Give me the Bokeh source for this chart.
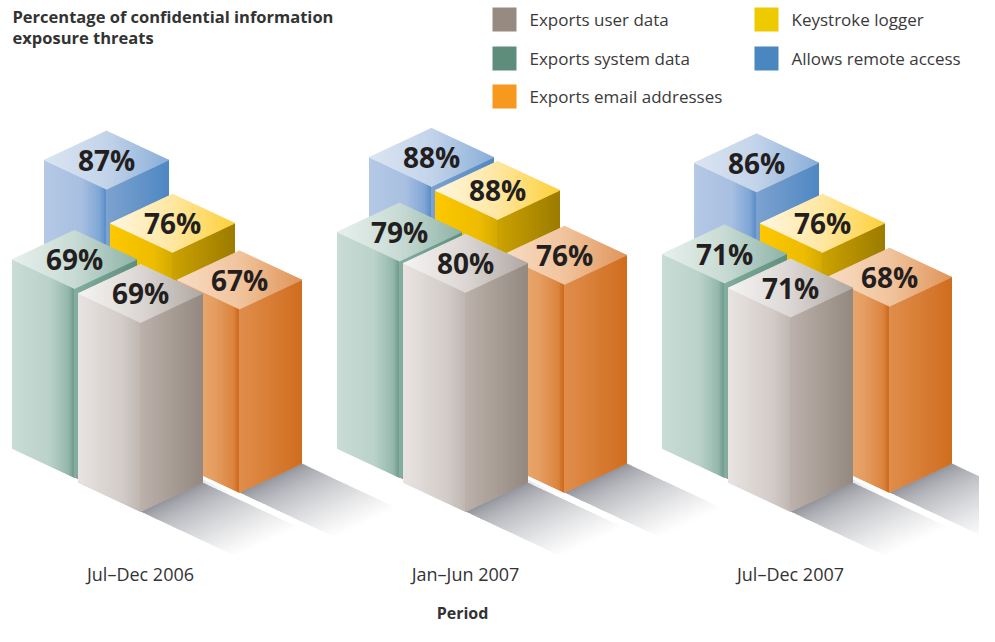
from bokeh.plotting import figure
from bokeh.models import Range1d, ColumnDataSource
from bokeh.core.properties import value
from bokeh.embed import file_html
from bokeh.resources import INLINE

# ---------------- data ----------------
title_lines = ["Percentage of confidential information", "exposure threats"]
periods = ["Jul\u2013Dec 2006", "Jan\u2013Jun 2007", "Jul\u2013Dec 2007"]
x_axis_title = "Period"
series_names = ["Exports user data", "Exports system data", "Exports email addresses",
                "Keystroke logger", "Allows remote access"]
user_data = [69, 80, 71]
system_data = [69, 79, 71]
email_addresses = [67, 76, 68]
keystroke_logger = [76, 88, 76]
remote_access = [87, 88, 86]
series_values = [user_data, system_data, email_addresses, keystroke_logger, remote_access]

# ---------------- layout / style ----------------
FONT = "Open Sans"
W, H = 979, 626
PX_PER_PCT = 2.74
HW, HD = 62, 29           # half width / half depth of a box top face
GROUP_X0, GROUP_DX, BASE_Y = 106, 325, 398
# slot offsets (dx, dy) of each series' base centre within a group
slots = {
    "Allows remote access": (0, 0),
    "Keystroke logger": (66, 33),
    "Exports email addresses": (133, 65),
    "Exports system data": (-32, 50),
    "Exports user data": (34, 84),
}
styles = {
    "Exports user data": dict(
        swatch="#978a80",
        top=[(0, "#f5f4f3"), (0.5, "#dcd7d4"), (1, "#b0a8a2")],
        left=[(0, "#e8e4e2"), (0.7, "#d3ccc8"), (1, "#c0b7b1")],
        right=[(0, "#bcb2ab"), (1, "#938980")]),
    "Exports system data": dict(
        swatch="#5f8d7c",
        top=[(0, "#e8f0ec"), (0.5, "#c8dbd4"), (1, "#8fb4a7")],
        left=[(0, "#c9dcd6"), (0.6, "#bad2ca"), (0.9, "#96b9ad"), (1, "#6f9a8c")],
        right=[(0, "#84ad9f"), (1, "#5f8f7f")]),
    "Exports email addresses": dict(
        swatch="#f7981f",
        top=[(0, "#f8dcc4"), (0.5, "#f1c49d"), (1, "#e0955a")],
        left=[(0, "#f0b47e"), (0.6, "#e59d61"), (0.9, "#dc8540"), (1, "#cc6a1c")],
        right=[(0, "#e08e4c"), (1, "#d06d1e")]),
    "Keystroke logger": dict(
        swatch="#eecb00",
        top=[(0, "#fff6df"), (0.5, "#ffe7a2"), (1, "#fdd03a")],
        left=[(0, "#fdc800"), (0.7, "#eebc00"), (1, "#d4aa00")],
        right=[(0, "#cca300"), (1, "#9c7b00")]),
    "Allows remote access": dict(
        swatch="#4a86c0",
        top=[(0, "#dbe5f2"), (0.5, "#c3d4ea"), (1, "#8aaed7")],
        left=[(0, "#b5c9e5"), (0.6, "#a8bfe1"), (0.9, "#7ea6d6"), (1, "#5a8cc6")],
        right=[(0, "#7da2cf"), (1, "#4f88c3")]),
}
legend_layout = {  # (swatch centre x, row centre y)
    "Exports user data": (504, 19),
    "Exports system data": (504, 58),
    "Exports email addresses": (504, 96),
    "Keystroke logger": (766, 19),
    "Allows remote access": (766, 58),
}
SHADOW_LEN = 95
SHADOW_COLOR = "#8d8f97"


def hex2rgb(h):
    return tuple(int(h[i:i + 2], 16) for i in (1, 3, 5))


def mix(c0, c1, f):
    a, b = hex2rgb(c0), hex2rgb(c1)
    return "#%02x%02x%02x" % tuple(round(a[k] + (b[k] - a[k]) * f) for k in range(3))


def grad(stops, t):
    for (t0, c0), (t1, c1) in zip(stops, stops[1:]):
        if t <= t1:
            f = (t - t0) / (t1 - t0) if t1 > t0 else 0
            return mix(c0, c1, f)
    return stops[-1][1]


p = figure(width=W, height=H, x_range=Range1d(0, W), y_range=Range1d(H, 0),
           output_backend="svg", toolbar_location=None, min_border=0,
           x_axis_location=None, y_axis_location=None)
p.grid.visible = False
p.outline_line_color = None
p.background_fill_color = "white"
p.border_fill_color = "white"

# collect bars
bars = []
for g, period in enumerate(periods):
    gx = GROUP_X0 + GROUP_DX * g
    for name, vals in zip(series_names, series_values):
        dx, dy = slots[name]
        bars.append(dict(name=name, v=vals[g], cx=gx + dx, cy=BASE_Y + dy))
bars.sort(key=lambda b: b["cy"])

# ---- shadows on the floor ----
sx, sy, sc = [], [], []
NS = 40
for b in bars:
    cx, cy = b["cx"], b["cy"]
    ax, ay = cx, cy + HD
    bx, by = cx + HW, cy
    k = HD / HW
    for i in range(NS):
        s0 = SHADOW_LEN * i / NS
        s1 = SHADOW_LEN * (i + 1) / NS + 0.8
        sx.append([bx + s0, bx + s1, ax + s1, ax + s0])
        sy.append([by + s0 * k, by + s1 * k, ay + s1 * k, ay + s0 * k])
        t = (i + 0.5) / NS
        sc.append(mix(SHADOW_COLOR, "#ffffff", t ** 0.65))
p.patches(xs=sx, ys=sy, fill_color=sc, line_color=None)

# ---- boxes with gradient faces ----
xs, ys, cs = [], [], []
NF, NT = 31, 62
for b in bars:
    cx, cy, h = b["cx"], b["cy"], b["v"] * PX_PER_PCT
    st = styles[b["name"]]
    yt = cy - h
    k = HD / HW
    # left (front-left) face
    for i in range(NF):
        xa = cx - HW + HW * i / NF
        xb = cx - HW + HW * (i + 1) / NF
        ta, tb = yt + (xa - (cx - HW)) * k, yt + (xb - (cx - HW)) * k
        ba, bb = cy + (xa - (cx - HW)) * k, cy + (xb - (cx - HW)) * k
        xs.append([xa, xb, xb, xa]); ys.append([ta, tb, bb, ba])
        cs.append(grad(st["left"], (i + 0.5) / NF))
    # right face
    for i in range(NF):
        xa = cx + HW * i / NF
        xb = cx + HW * (i + 1) / NF
        ta, tb = yt + HD - (xa - cx) * k, yt + HD - (xb - cx) * k
        ba, bb = cy + HD - (xa - cx) * k, cy + HD - (xb - cx) * k
        xs.append([xa, xb, xb, xa]); ys.append([ta, tb, bb, ba])
        cs.append(grad(st["right"], (i + 0.5) / NF))
    # top face
    for i in range(NT):
        xa = cx - HW + 2 * HW * i / NT
        xb = cx - HW + 2 * HW * (i + 1) / NT
        ha = HD * (1 - abs(xa - cx) / HW)
        hb = HD * (1 - abs(xb - cx) / HW)
        xs.append([xa, xb, xb, xa]); ys.append([yt - ha, yt - hb, yt + hb, yt + ha])
        cs.append(grad(st["top"], (i + 0.5) / NT))
src = ColumnDataSource(dict(xs=xs, ys=ys, c=cs))
p.patches(xs="xs", ys="ys", fill_color="c", line_color="c", line_width=1.0, source=src)

# ---- value labels ----
lab = ColumnDataSource(dict(x=[b["cx"] for b in bars],
                            y=[b["cy"] - b["v"] * PX_PER_PCT for b in bars],
                            t=["%d%%" % b["v"] for b in bars]))
p.text(x="x", y="y", text="t", source=lab, text_font=value(FONT), text_font_style="bold",
       text_font_size="28px", text_color="#231f20", text_align="center",
       text_baseline="alphabetic")

# ---- period labels and axis title ----
px_ = [GROUP_X0 + GROUP_DX * g + slots["Exports user data"][0] for g in range(len(periods))]
p.text(x=px_, y=[573] * len(periods), text=periods, text_font=value(FONT),
       text_font_size="18px", text_color="#333333", text_align="center",
       text_baseline="alphabetic")
p.text(x=[px_[1] - 3], y=[612], text=[x_axis_title], text_font=value(FONT),
       text_font_style="bold", text_font_size="16px", text_color="#333333",
       text_align="center", text_baseline="alphabetic")

# ---- title ----
p.text(x=[12, 12], y=[16, 37], text=title_lines, text_font=value(FONT),
       text_font_style="bold", text_font_size="16.5px", text_color="#333333",
       text_align="left", text_baseline="alphabetic")

# ---- legend ----
lx = [legend_layout[n][0] for n in series_names]
ly = [legend_layout[n][1] for n in series_names]
p.rect(x=lx, y=ly, width=24, height=24, fill_color=[styles[n]["swatch"] for n in series_names],
       line_color=None)
p.text(x=[x + 25 for x in lx], y=[y for y in ly], text=series_names, text_font=value(FONT),
       text_font_size="17px", text_color="#3a3a3a", text_align="left",
       text_baseline="alphabetic")

open("out.html", "w").write(file_html(p, INLINE))
